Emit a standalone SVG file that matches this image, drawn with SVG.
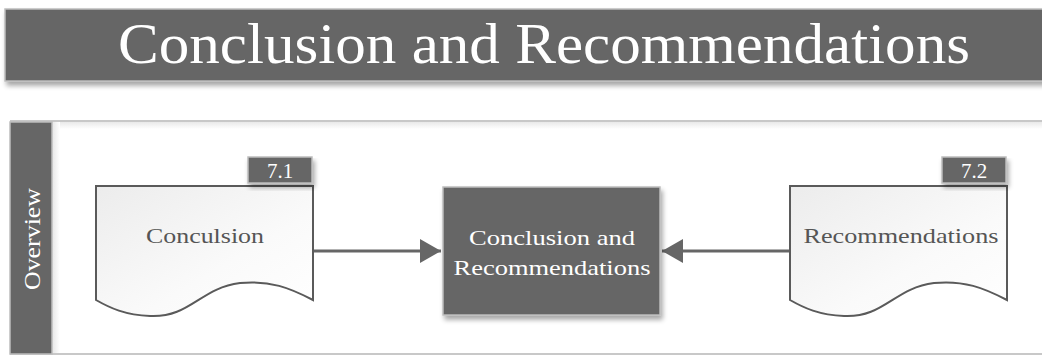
<svg xmlns="http://www.w3.org/2000/svg" width="1042" height="356" viewBox="0 0 1042 356">
  <defs>
    <filter id="shadow" x="-10%" y="-10%" width="130%" height="140%">
      <feGaussianBlur in="SourceAlpha" stdDeviation="2.5"/>
      <feOffset dx="2" dy="4" result="b"/>
      <feComponentTransfer><feFuncA type="linear" slope="0.35"/></feComponentTransfer>
      <feMerge><feMergeNode/><feMergeNode in="SourceGraphic"/></feMerge>
    </filter>
    <linearGradient id="docfill" x1="0" y1="0" x2="1" y2="1">
      <stop offset="0" stop-color="#ececec"/>
      <stop offset="0.6" stop-color="#fafafa"/>
      <stop offset="1" stop-color="#ffffff"/>
    </linearGradient>
    <linearGradient id="panelShade" x1="0" y1="0" x2="0" y2="1">
      <stop offset="0" stop-color="#e6e6e6"/>
      <stop offset="1" stop-color="#ffffff"/>
    </linearGradient>
    <linearGradient id="sideShade" x1="0" y1="0" x2="1" y2="0">
      <stop offset="0" stop-color="#e6e6e6"/>
      <stop offset="1" stop-color="#ffffff"/>
    </linearGradient>
    <marker id="arrow" markerWidth="7" markerHeight="8" refX="7" refY="4" orient="auto" markerUnits="strokeWidth">
      <path d="M0,0 L7,4 L0,8 Z" fill="#666666"/>
    </marker>
    <style>
      .dark { fill: #666666; stroke: #bdbdbd; stroke-width: 1.5; }
      .doc { fill: url(#docfill); stroke: #5a5a5a; stroke-width: 2; }
      .conn { stroke: #666666; stroke-width: 3; fill: none; }
      text { font-family: 'Liberation Serif', 'DejaVu Serif', serif; }
      .white { fill: #ffffff; }
      .grey { fill: #555555; }
    </style>
  </defs>

  <rect width="1042" height="356" fill="#ffffff"/>

  <!-- title banner -->
  <g id="title">
    <rect x="5" y="9" width="1045" height="72" class="dark" filter="url(#shadow)"/>
    <text x="544" y="63" text-anchor="middle" font-family="Liberation Serif, serif" font-size="56" class="white" textLength="852" lengthAdjust="spacingAndGlyphs">Conclusion and Recommendations</text>
  </g>

  <!-- overview panel -->
  <g id="panel">
    <rect x="52" y="121" width="990" height="8" fill="url(#panelShade)"/>
    <rect x="52" y="121" width="8" height="233" fill="url(#sideShade)"/>
    <line x1="10" y1="121" x2="1042" y2="121" stroke="#c8c8c8" stroke-width="2"/>
    <line x1="10" y1="354" x2="1042" y2="354" stroke="#c8c8c8" stroke-width="2"/>
    <rect x="10" y="122" width="42" height="232" class="dark"/>
    <text transform="translate(40,239) rotate(-90)" text-anchor="middle" font-family="Liberation Serif, serif" font-size="24" class="white" textLength="102" lengthAdjust="spacingAndGlyphs">Overview</text>
  </g>

  <!-- connectors -->
  <g id="connectors">
    <line x1="313" y1="251" x2="441" y2="251" class="conn" marker-end="url(#arrow)"/>
    <line x1="790" y1="251" x2="662" y2="251" class="conn" marker-end="url(#arrow)"/>
  </g>

  <!-- document: 7.1 -->
  <g id="node-conclusion">
    <path class="doc" d="M96,186 H313 V300 C290,288 270,280 240,283 C200,288 190,318 150,316 C125,315 110,308 96,300 Z"/>
    <text x="205" y="243" text-anchor="middle" font-size="22" class="grey" textLength="118" lengthAdjust="spacingAndGlyphs">Conculsion</text>
    <rect x="248" y="157" width="64" height="26" class="dark" filter="url(#shadow)"/>
    <text x="280" y="178" text-anchor="middle" font-size="21" class="white">7.1</text>
  </g>

  <!-- central summary box -->
  <g id="node-summary">
    <rect x="443" y="187" width="217" height="128" class="dark" filter="url(#shadow)"/>
    <text x="552" y="245" text-anchor="middle" font-size="21" class="white" textLength="166" lengthAdjust="spacingAndGlyphs">Conclusion and</text>
    <text x="552" y="275" text-anchor="middle" font-size="21" class="white" textLength="197" lengthAdjust="spacingAndGlyphs">Recommendations</text>
  </g>

  <!-- document: 7.2 -->
  <g id="node-recommendations">
    <path class="doc" d="M790,186 H1007 V300 C984,288 964,280 934,283 C894,288 884,318 844,316 C819,315 804,308 790,300 Z"/>
    <text x="901" y="243" text-anchor="middle" font-size="22" class="grey" textLength="195" lengthAdjust="spacingAndGlyphs">Recommendations</text>
    <rect x="942" y="157" width="64" height="26" class="dark" filter="url(#shadow)"/>
    <text x="974" y="178" text-anchor="middle" font-size="21" class="white">7.2</text>
  </g>
</svg>
